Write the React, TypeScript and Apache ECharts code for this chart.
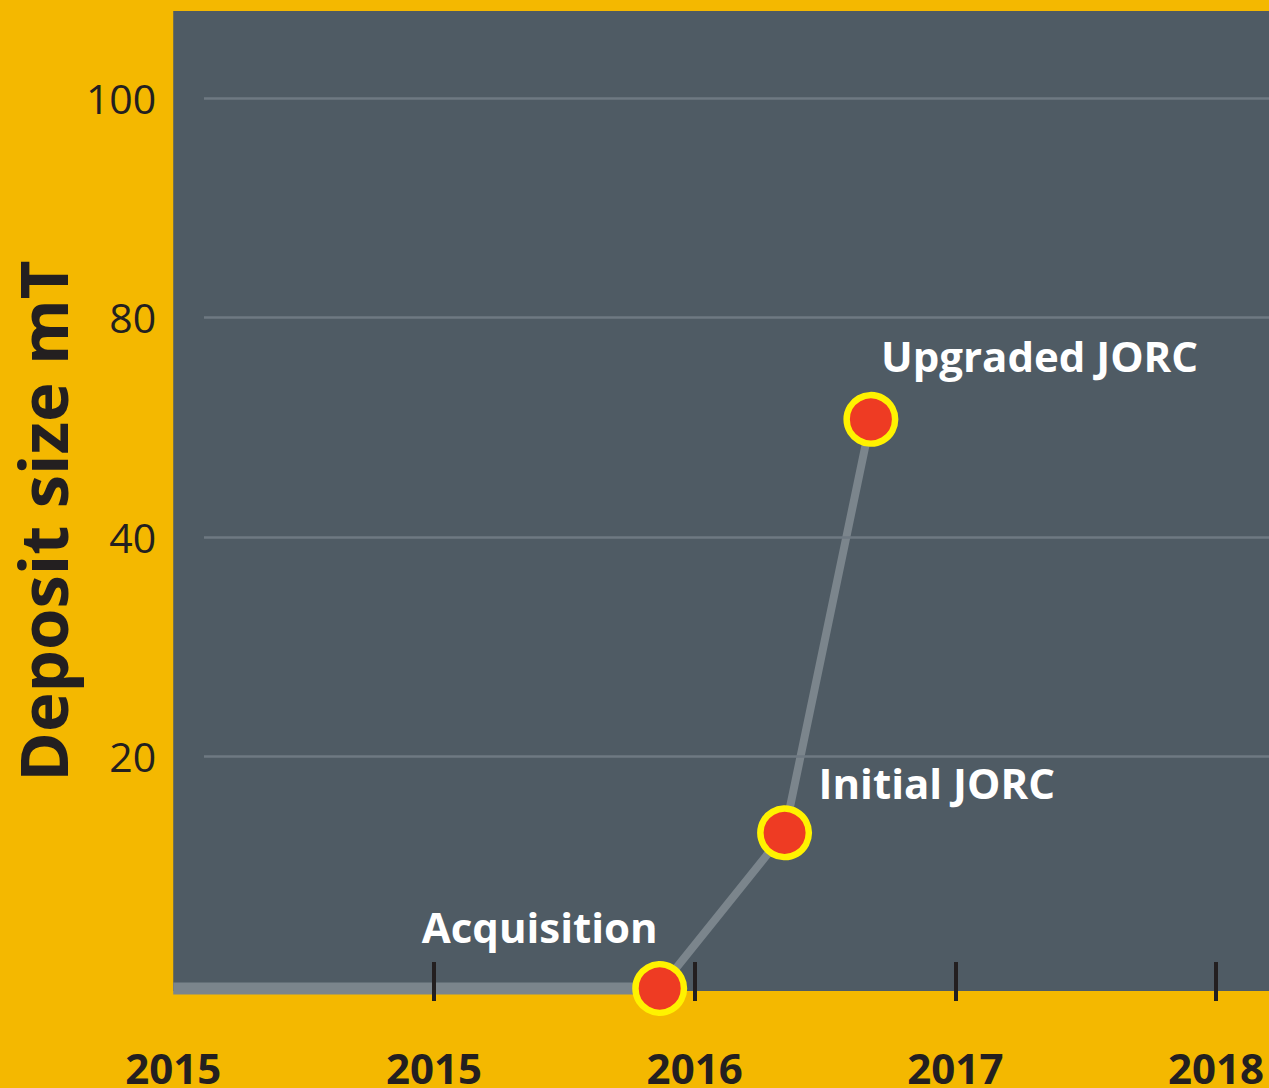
import React, { useEffect, useRef } from "react";
import * as echarts from "echarts";

// ---- data ----
const xTickYears = [2014, 2015, 2016, 2017, 2018];
const xTickLabels = ["2015", "2015", "2016", "2017", "2018"];
const xMajorTickYears = [2015, 2016, 2017, 2018];
const yTickValues = [20, 40, 80, 100];
const yTickLabels = ["20", "40", "80", "100"];
const milestoneNames = ["Acquisition", "Initial JORC", "Upgraded JORC"];
const milestoneDates = [2015.866, 2016.345, 2016.676];
const depositSizes = [0, 13.4, 61.4];
const baselineDates = [2014, 2015.866];
const baselineSizes = [0, 0];

// The printed y axis is not linear (20→40 and 40→80 take the same height);
// these anchors map a deposit size to its slot on the plotted axis.
const axisBreakValues = [0, 20, 40, 80, 100];
const axisBreakSlots = [-1.17, 20, 40, 60, 80];

function toSlot(v: number): number {
  for (let i = 0; i < axisBreakValues.length - 1; i++) {
    const a = axisBreakValues[i];
    const b = axisBreakValues[i + 1];
    if (v <= b || i === axisBreakValues.length - 2) {
      const t = (v - a) / (b - a);
      return axisBreakSlots[i] + t * (axisBreakSlots[i + 1] - axisBreakSlots[i]);
    }
  }
  return v;
}

const X_MIN = 2014;
const X_MAX = 2018.203;
const Y_MIN = -1.4;
const Y_MAX = 87.92;
const GRIDLINE_START = 2014.118;

const FONT = "Open Sans";
const DARK = "#231F20";

const labelLayouts = [
  { align: "right", offset: [-2, -62] },
  { align: "left", offset: [34, -50] },
  { align: "left", offset: [10, -64] },
];

export default function App() {
  const ref = useRef<HTMLDivElement>(null);

  useEffect(() => {
    if (!ref.current) return;
    const chart = echarts.init(ref.current, null, { renderer: "svg" });
    const ySlots = yTickValues.map(toSlot);

    const option: any = {
      animation: false,
      backgroundColor: "#F4B800",
      grid: {
        left: 172,
        right: 0,
        top: 11,
        bottom: 96,
        show: true,
        backgroundColor: "#4F5B64",
        borderWidth: 0,
      },
      xAxis: {
        type: "value",
        min: X_MIN,
        max: X_MAX,
        interval: 1,
        offset: 10,
        z: 5,
        axisLine: { show: false, onZero: false },
        splitLine: { show: false },
        axisTick: {
          show: true,
          inside: true,
          length: 39,
          customValues: xMajorTickYears,
          lineStyle: { color: DARK, width: 4 },
        },
        axisLabel: {
          customValues: xTickYears,
          margin: 49,
          fontFamily: FONT,
          fontWeight: "bold",
          fontSize: 42,
          lineHeight: 34,
          color: DARK,
          formatter: (v: number) => {
            const i = xTickYears.findIndex((y) => Math.abs(y - v) < 1e-6);
            return i >= 0 ? xTickLabels[i] : "";
          },
        },
      },
      yAxis: {
        type: "value",
        min: Y_MIN,
        max: Y_MAX,
        axisLine: { show: false },
        axisTick: { show: false },
        splitLine: { show: false },
        name: "Deposit size mT",
        nameLocation: "middle",
        nameRotate: 90,
        nameGap: 92,
        nameTextStyle: {
          fontFamily: FONT,
          fontWeight: "bold",
          fontSize: 67,
          lineHeight: 67,
          color: DARK,
          padding: [0, 40, 0, 0],
        },
        axisLabel: {
          customValues: ySlots,
          margin: 17,
          fontFamily: FONT,
          fontSize: 41,
          color: DARK,
          formatter: (v: number) => {
            const i = ySlots.findIndex((s) => Math.abs(s - v) < 1e-6);
            return i >= 0 ? yTickLabels[i] : "";
          },
        },
      },
      series: [
        {
          name: "baseline",
          type: "line",
          z: 1,
          silent: true,
          symbol: "none",
          data: baselineDates.map((d, i) => [d, toSlot(baselineSizes[i])]),
          lineStyle: { color: "#7B858C", width: 12 },
          markLine: {
            silent: true,
            symbol: ["none", "none"],
            label: { show: false },
            lineStyle: { color: "#6E7982", width: 2.5, type: "solid" },
            data: ySlots.map((s) => [
              { coord: [GRIDLINE_START, s] },
              { coord: [X_MAX, s] },
            ]),
          },
        },
        {
          name: "Deposit size",
          type: "line",
          z: 3,
          symbol: "circle",
          symbolSize: 48.5,
          lineStyle: { color: "#7B858C", width: 8 },
          itemStyle: {
            color: "#EE3B23",
            borderColor: "#FFF200",
            borderWidth: 6.5,
          },
          data: milestoneDates.map((d, i) => ({
            name: milestoneNames[i],
            value: [d, toSlot(depositSizes[i])],
            label: {
              show: true,
              position: "inside",
              formatter: milestoneNames[i],
              align: labelLayouts[i].align,
              verticalAlign: "middle",
              offset: labelLayouts[i].offset,
              fontFamily: FONT,
              fontWeight: "bold",
              fontSize: 42,
              color: "#FFFFFF",
            },
          })),
        },
      ],
    };

    chart.setOption(option);
    return () => chart.dispose();
  }, []);

  return (
    <div
      ref={ref}
      style={{ position: "fixed", left: 0, top: 0, width: 1269, height: 1088 }}
    />
  );
}
